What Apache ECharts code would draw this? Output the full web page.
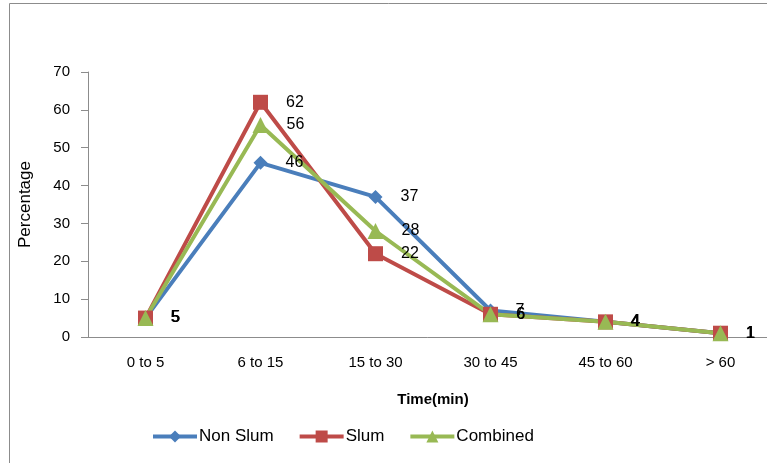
<!DOCTYPE html>
<html><head><meta charset="utf-8">
<script src="https://cdn.jsdelivr.net/npm/echarts@6/dist/echarts.min.js"></script>
<style>html,body{margin:0;padding:0;background:#fff}#c{width:767px;height:463px}</style>
</head><body><div id="c"></div>
<script>
const categories = ['0 to 5', '6 to 15', '15 to 30', '30 to 45', '45 to 60', '> 60'];
const nonSlum = [5, 46, 37, 7, 4, 1];
const slum = [5, 62, 22, 6, 4, 1];
const combined = [5, 56, 28, 6, 4, 1];
const yTicks = {min: 0, max: 70, interval: 10};

const font = 'Liberation Sans, Arial, sans-serif';
function mk(name, data, color, symbol, size) {
  return {
    name, type: 'line', data, symbol, symbolSize: size,
    lineStyle: {color, width: 4},
    itemStyle: {color},
    label: {show: true, position: 'right', distance: 18, color: '#000', fontSize: 16, fontFamily: font},
    animation: false
  };
}
const chart = echarts.init(document.getElementById('c'));
chart.setOption({
  animation: false,
  grid: {left: 88, top: 72, width: 690, height: 265, outerBoundsMode: 'none', containLabel: false},
  graphic: [{type: 'rect', shape: {x: 9.5, y: 3.5, width: 800, height: 500}, style: {fill: 'none', stroke: '#8c8c8c', lineWidth: 1}}],
  legend: {
    left: 146, top: 423, itemWidth: 44, itemHeight: 15, itemGap: 24,
    lineStyle: {width: 4},
    textStyle: {fontSize: 17, fontFamily: font, color: '#000', padding: [0, 0, 0, -3]},
    data: ['Non Slum', 'Slum', 'Combined']
  },
  xAxis: {
    type: 'category', data: categories, boundaryGap: true,
    name: 'Time(min)', nameLocation: 'middle', nameGap: 55,
    nameTextStyle: {fontSize: 15, fontWeight: 'bold', fontFamily: font, color: '#000'},
    axisLine: {lineStyle: {color: '#8c8c8c'}},
    axisTick: {show: false},
    axisLabel: {fontSize: 15, fontFamily: font, color: '#000', margin: 18}
  },
  yAxis: {
    type: 'value', min: yTicks.min, max: yTicks.max, interval: yTicks.interval,
    name: 'Percentage', nameLocation: 'middle', nameGap: 54, nameRotate: 90,
    nameTextStyle: {fontSize: 17, fontFamily: font, color: '#000'},
    axisLine: {show: true, lineStyle: {color: '#8c8c8c'}},
    axisTick: {show: true, length: 7, lineStyle: {color: '#8c8c8c'}},
    splitLine: {show: false},
    axisLabel: {fontSize: 15, fontFamily: font, color: '#000', margin: 18}
  },
  series: [
    mk('Non Slum', nonSlum, '#4A7EBB', 'diamond', 14),
    mk('Slum', slum, '#BE4B48', 'rect', 15),
    mk('Combined', combined, '#98B954', 'triangle', 16)
  ]
});
</script></body></html>
